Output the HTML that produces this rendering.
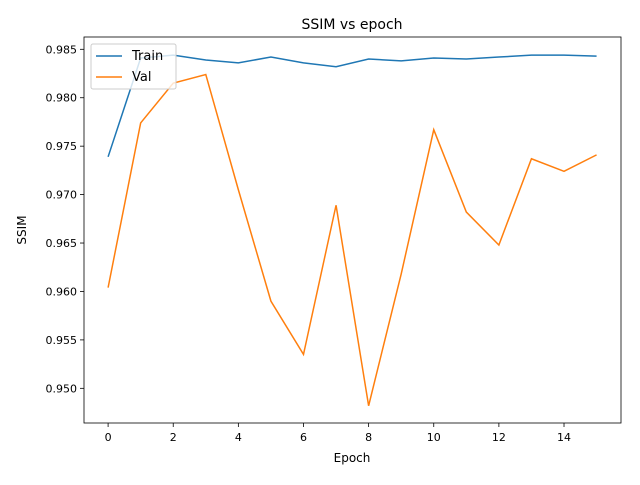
<!DOCTYPE html>
<html><head><meta charset="utf-8"><style>
body{margin:0;background:#fff;font-family:"Liberation Sans","DejaVu Sans",sans-serif}
svg text{font-family:"DejaVu Sans","Liberation Sans",sans-serif;font-size:11px;fill:#000}
</style></head><body>
<svg id="c" width="640" height="480">
<rect width="640" height="480" fill="#fff"/>
<text x="352" y="29" text-anchor="middle" style="font-size:14px">SSIM vs epoch</text>
<text x="352" y="462" text-anchor="middle" style="font-size:12px">Epoch</text>
<text transform="translate(26,230) rotate(-90)" text-anchor="middle" style="font-size:12px">SSIM</text>
<g id="ticks"></g>
<g id="lines"></g>
<rect x="84" y="37" width="537" height="386" fill="none" stroke="#000" stroke-width="0.8"/>
<g>
<rect x="91" y="44" width="85" height="45" rx="2" fill="#fff" fill-opacity="0.8" stroke="#ccc"/>
<line x1="96" y1="56" x2="122" y2="56" stroke="#1f77b4" stroke-width="1.5"/>
<text x="132" y="60" style="font-size:13px">Train</text>
<line x1="96" y1="77" x2="122" y2="77" stroke="#ff7f0e" stroke-width="1.5"/>
<text x="132" y="81" style="font-size:13px">Val</text>
</g>
</svg>
<script>
const epochs=[0,1,2,3,4,5,6,7,8,9,10,11,12,13,14,15];
const trainSSIM=[0.9739,0.9841,0.9844,0.9839,0.9836,0.9842,0.9836,0.9832,0.9840,0.9838,0.9841,0.9840,0.9842,0.9844,0.9844,0.9843];
const valSSIM=[0.9604,0.9774,0.9815,0.9824,0.9705,0.9590,0.9535,0.9689,0.9482,0.9618,0.9767,0.9682,0.9648,0.9737,0.9724,0.9741];
const xTicks=[0,2,4,6,8,10,12,14];
const yTicks=[0.950,0.955,0.960,0.965,0.970,0.975,0.980,0.985];
const NS="http://www.w3.org/2000/svg";
const L=84,R=621,T=37,B=423,x0=-0.74,x1=15.75,y0=0.94642,y1=0.98627;
const sx=v=>L+(v-x0)/(x1-x0)*(R-L);
const sy=v=>B-(v-y0)/(y1-y0)*(B-T);
const tg=document.getElementById('ticks');
function mk(t,a,p){const e=document.createElementNS(NS,t);for(const k in a)e.setAttribute(k,a[k]);p.appendChild(e);return e;}
xTicks.forEach(v=>{
 const l=mk('line',{x1:sx(v),x2:sx(v),y1:B,y2:B+4,stroke:'#000','stroke-width':0.8},tg);
 
 
 const t=mk('text',{x:sx(v),y:B+18,'text-anchor':'middle'},tg);t.textContent=v;
 
 
});
yTicks.forEach(v=>{
 const l=mk('line',{x1:L-4,x2:L,y1:sy(v),y2:sy(v),stroke:'#000','stroke-width':0.8},tg);
 
 
 const t=mk('text',{x:L-7,y:sy(v)+4,'text-anchor':'end'},tg);t.textContent=v.toFixed(3);
 
 
});
const lg=document.getElementById('lines');
function line(vals,col,name){
 const p=mk('polyline',{points:vals.map((v,i)=>sx(epochs[i])+','+sy(v)).join(' '),fill:'none',stroke:col,'stroke-width':1.5},lg);
 
 
}
line(trainSSIM,'#1f77b4','train-line');
line(valSSIM,'#ff7f0e','val-line');
</script>
</body></html>
